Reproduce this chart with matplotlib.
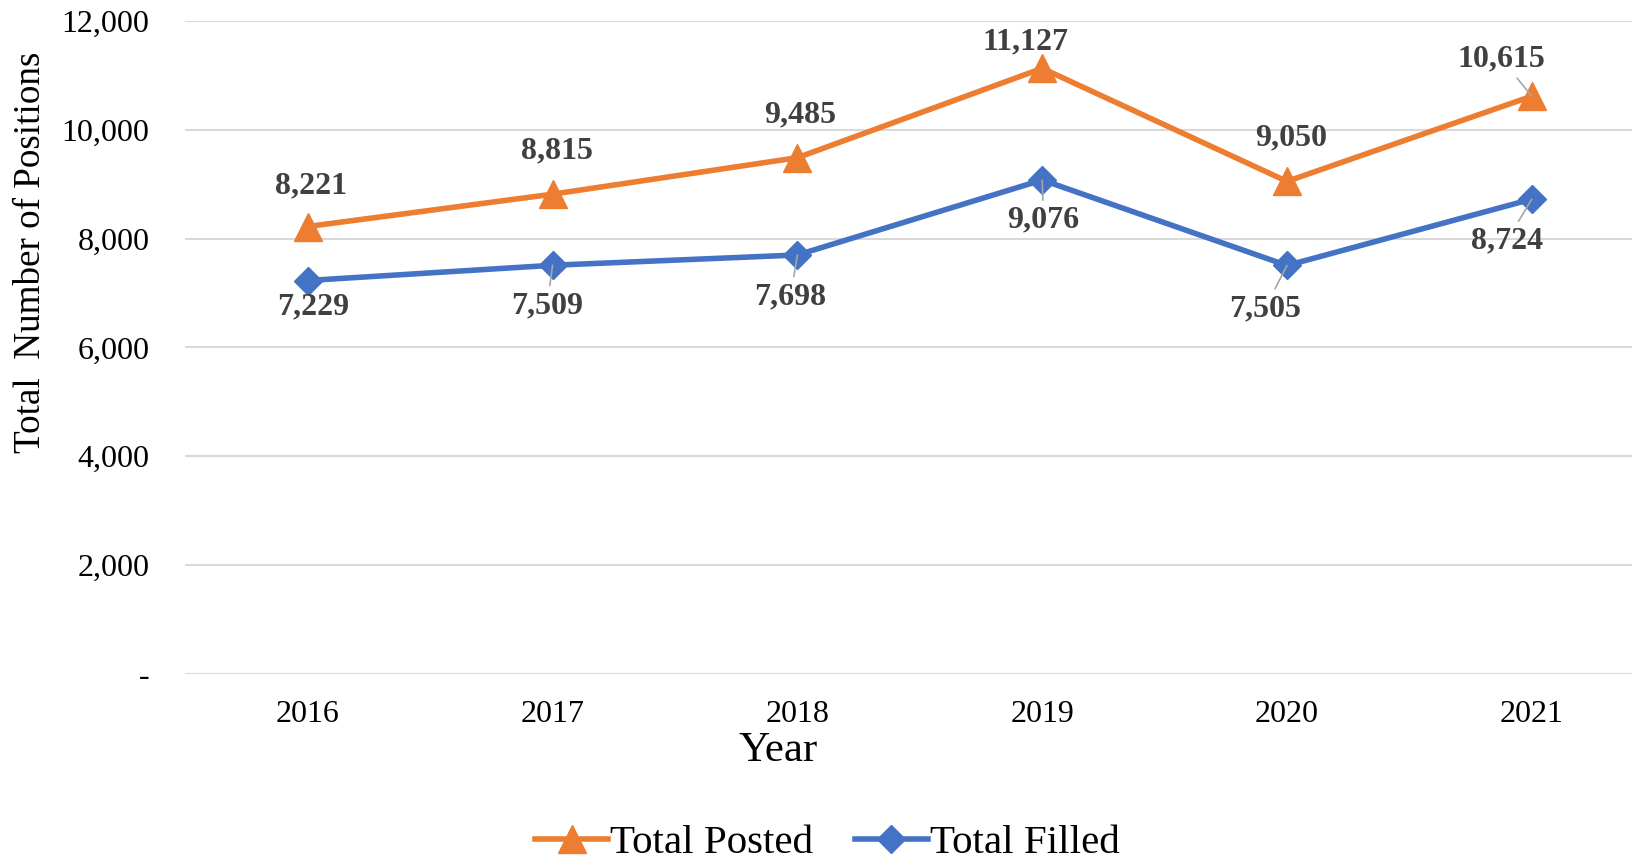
import numpy as np
import matplotlib.pyplot as plt
from matplotlib.ticker import FuncFormatter

plt.rcParams['font.family'] = ['Liberation Serif', 'DejaVu Serif']

years = ["2016", "2017", "2018", "2019", "2020", "2021"]
posted = [8221, 8815, 9485, 11127, 9050, 10615]
filled = [7229, 7509, 7698, 9076, 7505, 8724]

# label offsets in points, and whether a leader line is drawn
posted_off = [(2, 29), (3, 31), (2, 31), (-12, 19), (3, 31), (-22, 27)]
posted_lead = [False, False, False, False, False, True]
filled_off = [(4, -19), (-4, -29), (-5, -30), (1, -29), (-16, -31), (-18, -30)]
filled_lead = [False, True, True, True, True, True]

orange = "#ED7D31"
blue = "#4472C4"

fig = plt.figure(figsize=(16.32, 8.67), dpi=100)
ax = fig.add_axes([0.1136, 0.2226, 0.9, 0.7534])

x = np.arange(len(years))
ax.plot(x, posted, color=orange, lw=4, marker="^", ms=20, label="Total Posted")
ax.plot(x, filled, color=blue, lw=4, marker="D", ms=14, label="Total Filled")


def put_labels(vals, offs, leads):
    for xi, v, o, l in zip(x, vals, offs, leads):
        ap = None
        if l:
            ap = dict(arrowstyle="-", color="#A6A6A6", lw=1.2, shrinkA=2, shrinkB=0)
        ax.annotate(f"{v:,}", (xi, v), xytext=o, textcoords="offset points",
                    ha="center", va="center", fontsize=23, fontweight="bold",
                    color="#404040", arrowprops=ap)


put_labels(posted, posted_off, posted_lead)
put_labels(filled, filled_off, filled_lead)

ax.set_xlim(-0.5, 5.5)
ax.set_ylim(0, 12000)
ax.set_yticks(np.arange(0, 12001, 2000))
ax.yaxis.set_major_formatter(FuncFormatter(lambda v, p: "-" if v == 0 else f"{int(v):,}"))
ax.set_xticks(x)
ax.set_xticklabels(years)
ax.tick_params(axis="y", length=0, pad=26, labelsize=23)
ax.tick_params(axis="x", length=0, pad=19, labelsize=23)
ax.grid(axis="y", color="#D9D9D9", lw=1.5)
ax.set_axisbelow(True)
for s in ax.spines.values():
    s.set_visible(False)

fig.text(0.019, 0.709, "Total  Number of Positions", rotation=90,
         ha="center", va="center", fontsize=26.7)
fig.text(0.477, 0.134, "Year", ha="center", va="center", fontsize=31)

fig.legend(loc="center", bbox_to_anchor=(0.507, 0.027), ncol=2, frameon=False,
           fontsize=29.5, handlelength=1.8, handletextpad=0.05, columnspacing=1.0,
           borderaxespad=0, borderpad=0.1)

plt.savefig("out.png", dpi=100)
